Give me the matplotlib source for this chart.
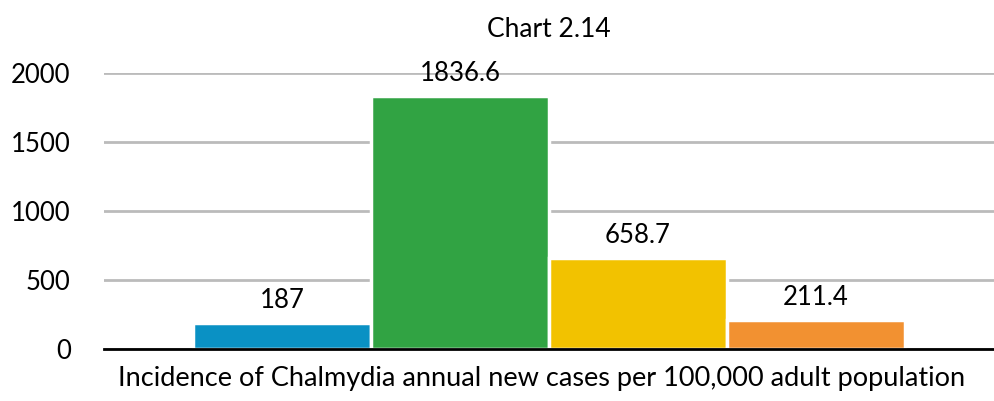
import matplotlib
matplotlib.use("Agg")
import matplotlib.pyplot as plt

categories = ["A", "B", "C", "D"]
values = [187, 1836.6, 658.7, 211.4]
labels = ["187", "1836.6", "658.7", "211.4"]
colors = ["#0A91C4", "#31A343", "#F2C200", "#F29131"]
yticks = [0, 500, 1000, 1500, 2000]
title = "Chart 2.14"
xlabel = "Incidence of Chalmydia annual new cases per 100,000 adult population"

plt.rcParams['font.family'] = ['Lato', 'DejaVu Sans']

fig = plt.figure(figsize=(9.94, 4.01), dpi=100)
ax = fig.add_axes([104/994, 1 - 349/401, 890/994, (349 - 73)/401])

w = 0.2
xs = [-1.5*w, -0.5*w, 0.5*w, 1.5*w]
ax.bar(xs, values, width=w, color=colors, edgecolor="white", linewidth=2.5, zorder=3)
for x, v, l in zip(xs, values, labels):
    ax.annotate(l, (x, v), xytext=(0, 7), textcoords="offset points",
                ha="center", va="bottom", fontsize=18.5)

ax.set_xlim(-0.5, 0.5)
ax.set_ylim(0, 2000)
ax.set_yticks(yticks)
ax.set_yticklabels([str(t) for t in yticks], fontsize=18.5)
ax.set_xticks([])
ax.tick_params(axis='y', length=0, pad=24)
ax.grid(axis='y', color="#BBBBBB", linewidth=2, zorder=0)
for s in ["top", "right", "left"]:
    ax.spines[s].set_visible(False)
ax.spines["bottom"].set_linewidth(2)
ax.spines["bottom"].set_zorder(4)
ax.set_xlabel(xlabel, fontsize=19.5, labelpad=14)
ax.xaxis.set_label_coords(0.492, -0.06, transform=ax.transAxes)
ax.xaxis.label.set_va("top")
ax.set_title(title, fontsize=19, pad=26)

fig.savefig("out.png", dpi=100)
